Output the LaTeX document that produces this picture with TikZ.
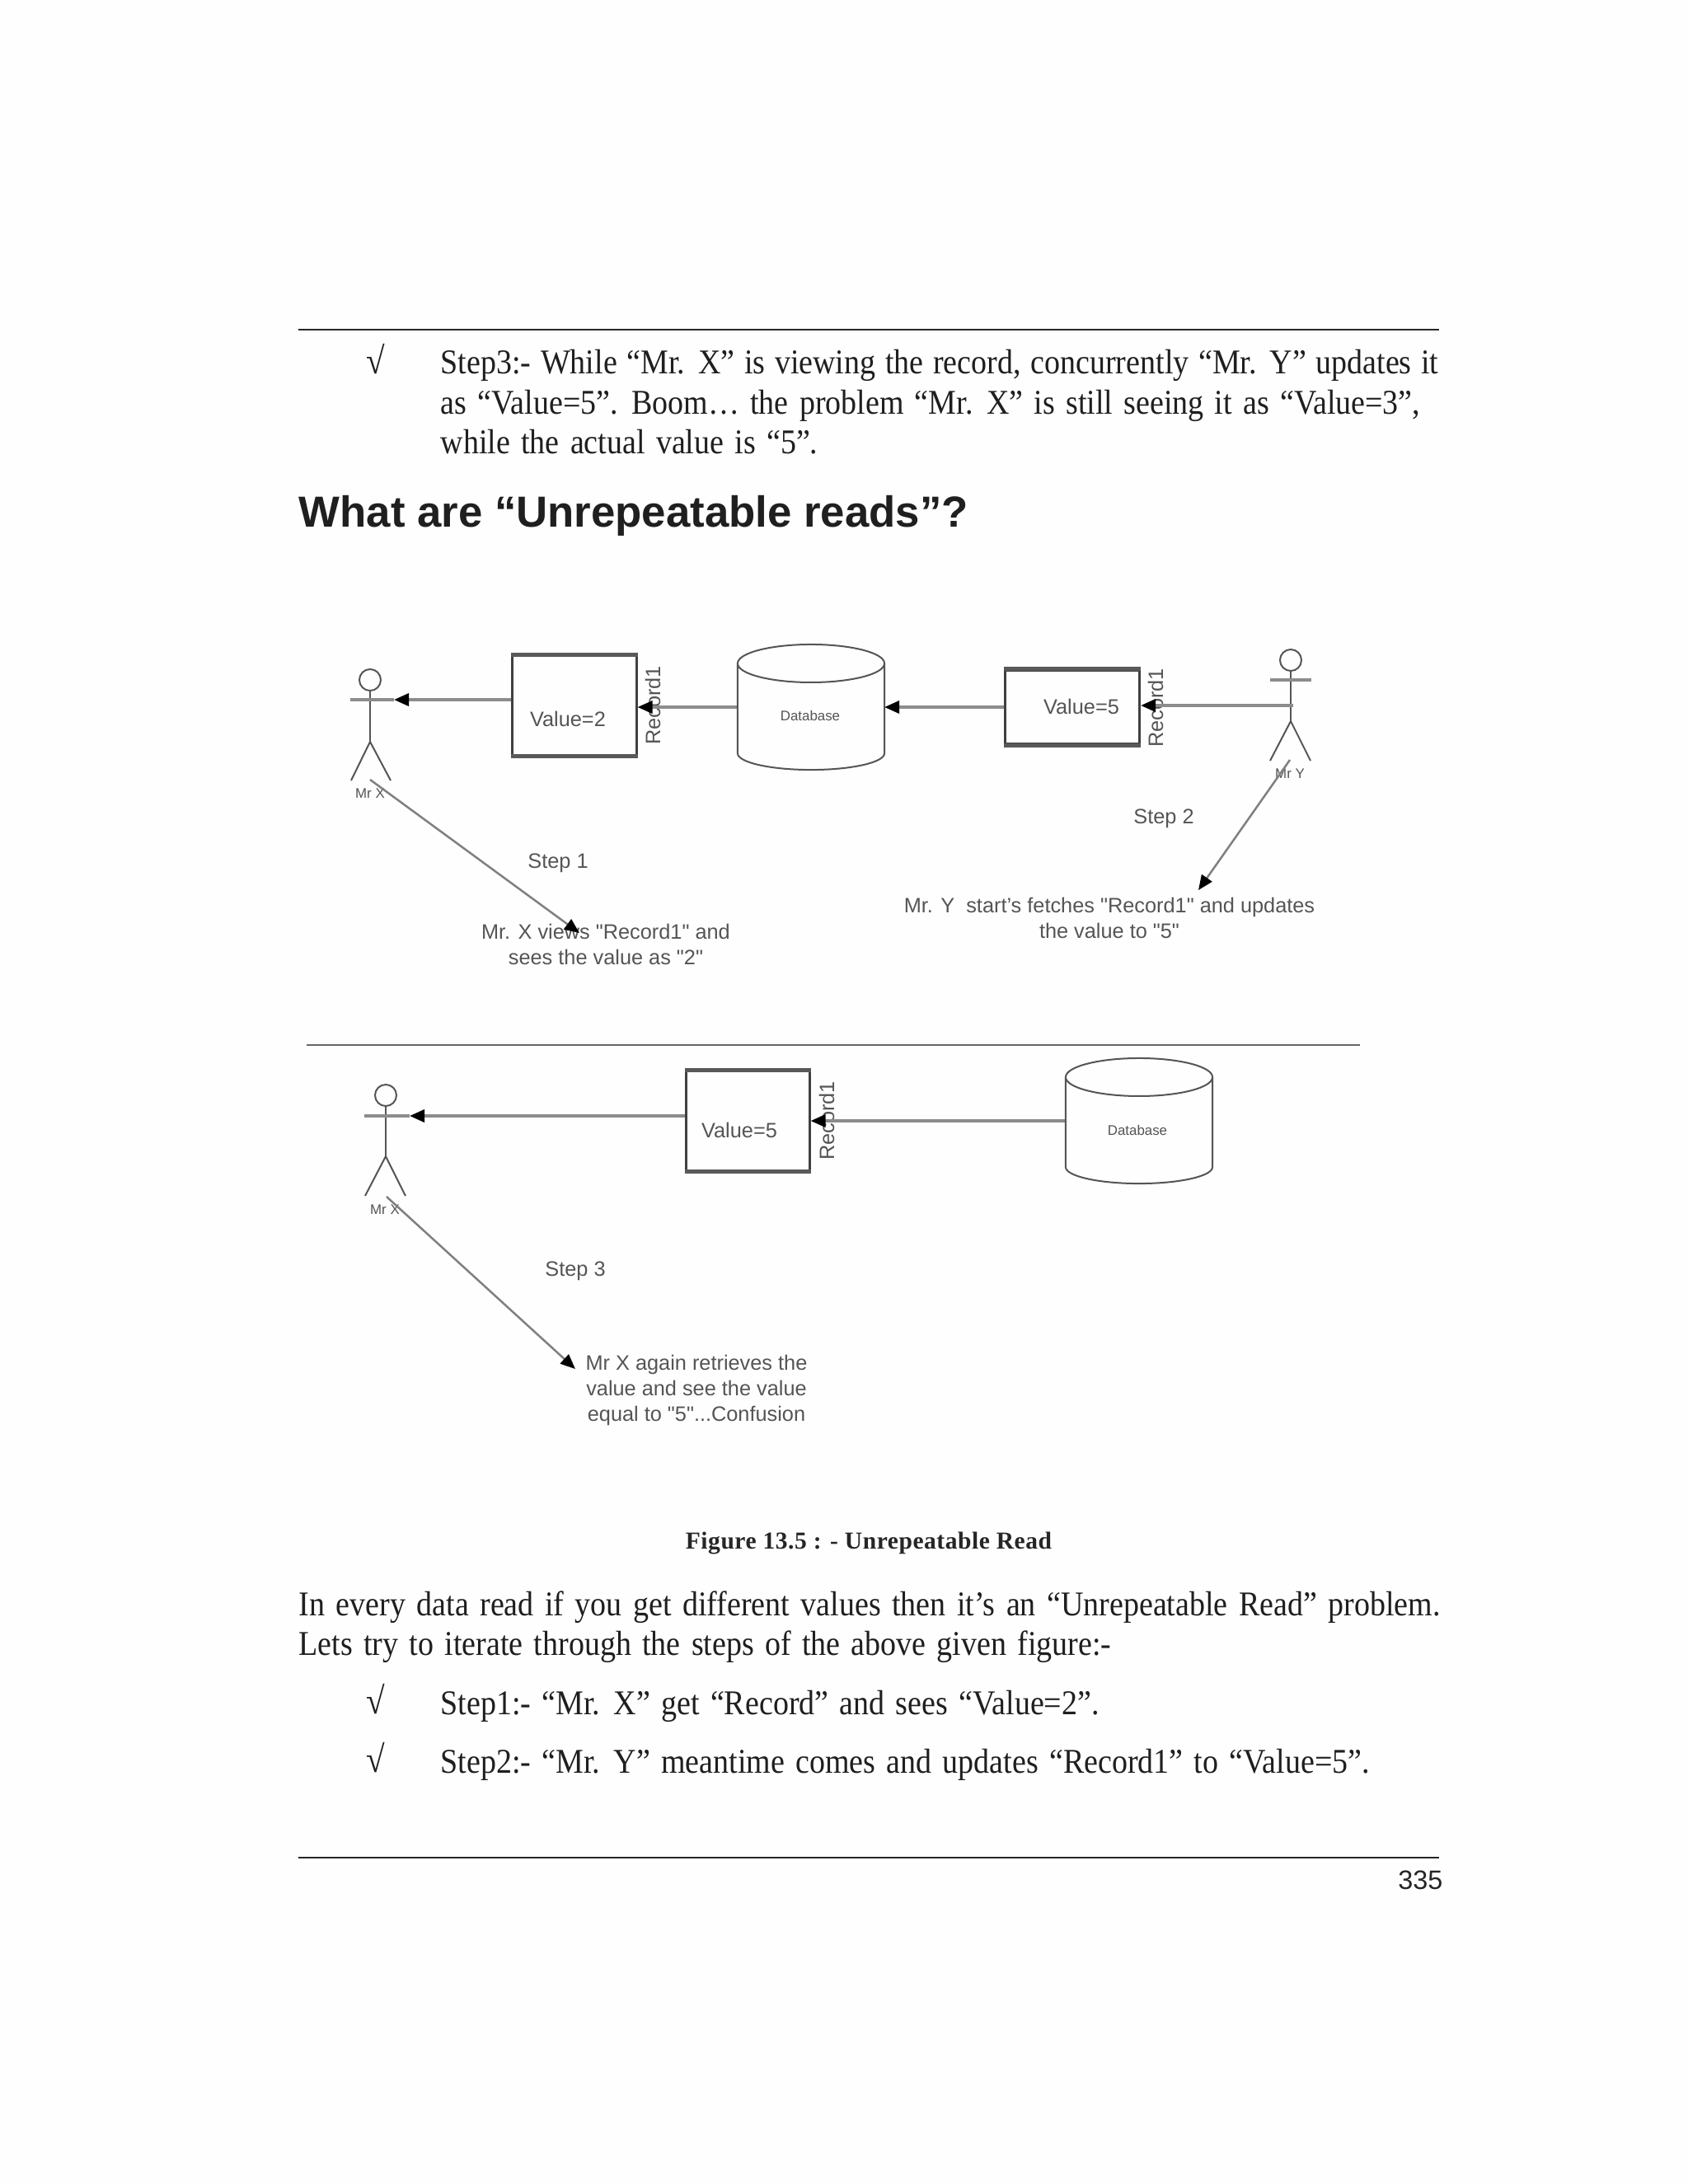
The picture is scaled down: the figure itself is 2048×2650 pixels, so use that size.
\documentclass[tikz,border=0pt]{standalone}
\usepackage{fontspec}
\usepackage{graphicx}
\setmainfont{Liberation Serif}
\setsansfont[Ligatures=TeXOff]{Liberation Sans}
\newfontfamily\bodyfont[FakeStretch=0.9, WordSpace=1.4]{Liberation Serif}
\usetikzlibrary{positioning, arrows.meta, calc}
\definecolor{pagebg}{HTML}{FEFEFE}
\definecolor{inkgray}{HTML}{555555}
\begin{document}
\begin{tikzpicture}[
    x=0.01cm, y=-0.01cm,
    head/.style={circle, draw=inkgray, line width=0.2mm, minimum size=0.26cm, inner sep=0pt},
    figure/.style={draw=inkgray, line width=0.2mm},
    valbox/.style={rectangle, draw=black!75, line width=0.3mm, inner sep=0pt},
    boxedge/.style={draw=black!65, line width=0.5mm},
    dbase/.style={rectangle, minimum width=1.78cm, minimum height=1.52cm, inner sep=0pt, outer sep=0pt},
    arr/.style={-{Stealth[length=1.8mm, width=1.5mm, inset=0pt, black]}, draw=black!45, line width=0.35mm},
    thinarr/.style={-{Stealth[length=1.8mm, width=1.5mm, inset=0pt, black]}, draw=black!50, line width=0.25mm},
    lbl/.style={font=\sffamily\fontsize{7.2}{8.8}\selectfont, text=inkgray, align=center, inner sep=0pt},
    tinylbl/.style={font=\sffamily\fontsize{4.8}{6}\selectfont, text=inkgray, inner sep=0pt},
    reclbl/.style={font=\sffamily\fontsize{7.2}{8}\selectfont, text=inkgray, rotate=90, inner sep=0pt},
    rulel/.style={draw=black!85, line width=0.25mm},
    para/.style={font=\bodyfont\fontsize{12}{13.65}\selectfont, text=black!88, align=justify, anchor=north west, inner sep=0pt},
    tick/.style={font=\bodyfont\fontsize{13}{13}\selectfont, text=black!88, anchor=west, inner sep=0pt},
]
\fill[pagebg] (0,0) rectangle (2048,2650);
\useasboundingbox (0,0) rectangle (2048,2650);

% Page rules
\coordinate (topl) at (362,400);
\coordinate (topr) at (1746,400);
\coordinate (botl) at (362,2254);
\coordinate (botr) at (1746,2254);
\coordinate (midl) at (372,1268);
\coordinate (midr) at (1650,1268);
\draw[rulel] (topl) -- (topr);
\draw[rulel] (botl) -- (botr);
\draw[rulel, draw=black!60] (midl) -- (midr);

% Text above the figure
\node[tick] (tickthree) at (444,436) {√};
\node[para, text width=12.1cm] (stepthree) at (534,424) {Step3:- While “Mr. X” is viewing the record, concurrently “Mr. Y” updates it\linebreak as “Value=5”. Boom… the problem “Mr. X” is still seeing it as “Value=3”,\\ while the actual value is “5”.};
\node[font=\sffamily\bfseries\fontsize{15}{18}\selectfont, text=black!88, anchor=west, inner sep=0pt] (title) at (362,626) {What are “Unrepeatable reads”?};

% Mr X, first time
\node[head] (headx) at (449,825) {};
\coordinate (armxl) at (425,849);
\coordinate (armxr) at (478,849);
\coordinate (hipx) at (449,900);
\coordinate (footxl) at (426,947);
\coordinate (footxr) at (474,947);
\draw[figure] (headx) -- (hipx);
\draw[figure] (footxl) -- (hipx) -- (footxr);
\node[tinylbl] (namex) at (449,963) {Mr X};

% Value=2 and database
\node[valbox, minimum width=1.5cm, minimum height=1.2cm] (valtwo) at (697,856) {};
\node[lbl] (valtwotxt) at (689,872) {Value=2};
\node[reclbl] (rectwo) at (792,856) {Record1};
\node[dbase] (dbone) at (984,858) {};
\node[tinylbl] (dbonetxt) at (983,868) {Database};

% Value=5 and Mr Y
\node[valbox, minimum width=1.63cm, minimum height=0.89cm] (valfive) at (1301,858) {};
\node[lbl] (valfivetxt) at (1312,857) {Value=5};
\node[reclbl] (recfive) at (1402,859) {Record1};
\node[head] (heady) at (1566,801) {};
\coordinate (armyl) at (1541,825);
\coordinate (armyr) at (1591,825);
\coordinate (necky) at (1569,856);
\coordinate (hipy) at (1566,875);
\coordinate (footyl) at (1541,923);
\coordinate (footyr) at (1590,923);
\draw[figure] (heady) -- (hipy);
\draw[figure, draw=black!45, line width=0.35mm] (armyl) -- (armyr);
\draw[figure] (footyl) -- (hipy) -- (footyr);
\node[tinylbl] (namey) at (1565,939) {Mr Y};

% Arrows of the top half
\draw[arr] (valtwo.west |- armxr) -- (armxr);
\draw[draw=black!45, line width=0.35mm] (armxr) -- (armxl);
\draw[arr] (dbone.west) -- (valtwo.east |- dbone.west);
\draw[arr] (valfive.west) -- (dbone.east |- valfive.west);
\draw[arr] (necky) -- (valfive.east |- necky);

% Step 1 and Step 2
\node[lbl] (stepone) at (677,1047) {Step 1};
\node[lbl] (xviews) at (735,1146) {Mr. X views "Record1" and\\sees the value as "2"};
\coordinate (fromx) at (449,946);
\coordinate (tox) at (703,1132);
\draw[thinarr] (fromx) -- (tox);
\node[lbl] (steptwo) at (1412,993) {Step 2};
\node[lbl] (yfetches) at (1346,1114) {Mr. Y\ \ start’s fetches "Record1" and updates\\the value to "5"};
\coordinate (fromy) at (1565,922);
\coordinate (toy) at (1454,1080);
\draw[thinarr] (fromy) -- (toy);

% Mr X, second time
\node[head] (headz) at (468,1329) {};
\coordinate (armzl) at (442,1354);
\coordinate (armzr) at (497,1354);
\coordinate (hipz) at (468,1403);
\coordinate (footzl) at (443,1451);
\coordinate (footzr) at (492,1451);
\draw[figure] (headz) -- (hipz);
\draw[figure] (footzl) -- (hipz) -- (footzr);
\node[tinylbl] (namez) at (467,1468) {Mr X};

% Value=5 again and database
\node[valbox, minimum width=1.49cm, minimum height=1.2cm] (valagain) at (907.5,1360) {};
\node[lbl] (valagaintxt) at (897,1371) {Value=5};
\node[reclbl] (recagain) at (1003,1360) {Record1};
\node[dbase] (dbtwo) at (1382,1360) {};
\node[tinylbl] (dbtwotxt) at (1380,1371) {Database};
\draw[arr] (valagain.west |- armzr) -- (armzr);
\draw[draw=black!45, line width=0.35mm] (armzr) -- (armzl);
\draw[arr] (dbtwo.west) -- (valagain.east);

% Step 3
\node[lbl] (stepagain) at (698,1542) {Step 3};
\node[lbl] (xagain) at (845,1687) {Mr X again retrieves the\\value and see the value\\equal to "5"...Confusion};
\coordinate (fromz) at (469,1452);
\coordinate (toz) at (698,1661);
\draw[thinarr] (fromz) -- (toz);

% Heavy top and bottom of the boxes
\foreach \b in {valtwo, valfive, valagain} {
    \draw[boxedge] (\b.north west) -- (\b.north east);
    \draw[boxedge] (\b.south west) -- (\b.south east);
}

% Database outlines
\foreach \d in {dbone, dbtwo} {
    \draw[figure] ($(\d.north)+(0,23)$) ellipse [x radius=0.89cm, y radius=0.23cm];
    \draw[figure] ($(\d.north west)+(0,23)$) -- ($(\d.south west)+(0,-20)$)
        arc [start angle=180, end angle=360, x radius=0.89cm, y radius=0.2cm]
        -- ($(\d.north east)+(0,23)$);
}

% Caption
\node[font=\bfseries\fontsize{8.4}{10}\selectfont\addfontfeature{LetterSpace=1.8}, text=black!85, inner sep=0pt] (caption) at (1054,1872) {Figure 13.5 : - Unrepeatable Read};

% Text below the figure
\node[para, text width=13.84cm] (inevery) at (362,1930) {In every data read if you get different values then it’s an “Unrepeatable Read” problem.\linebreak Lets try to iterate through the steps of the above given figure:-};
\node[tick] (tickone) at (444,2062) {√};
\node[para, anchor=west, text width=12.1cm] (stepone) at (534,2070) {Step1:- “Mr. X” get “Record” and sees “Value=2”.};
\node[tick] (ticktwo) at (444,2133) {√};
\node[para, anchor=west, text width=12.1cm] (steptwo) at (534,2141) {Step2:- “Mr. Y” meantime comes and updates “Record1” to “Value=5”.};

% Page number
\node[font=\sffamily\fontsize{9.2}{11}\selectfont, text=black!85, anchor=east, inner sep=0pt] (pageno) at (1751,2281) {335};

\end{tikzpicture}
\end{document}
